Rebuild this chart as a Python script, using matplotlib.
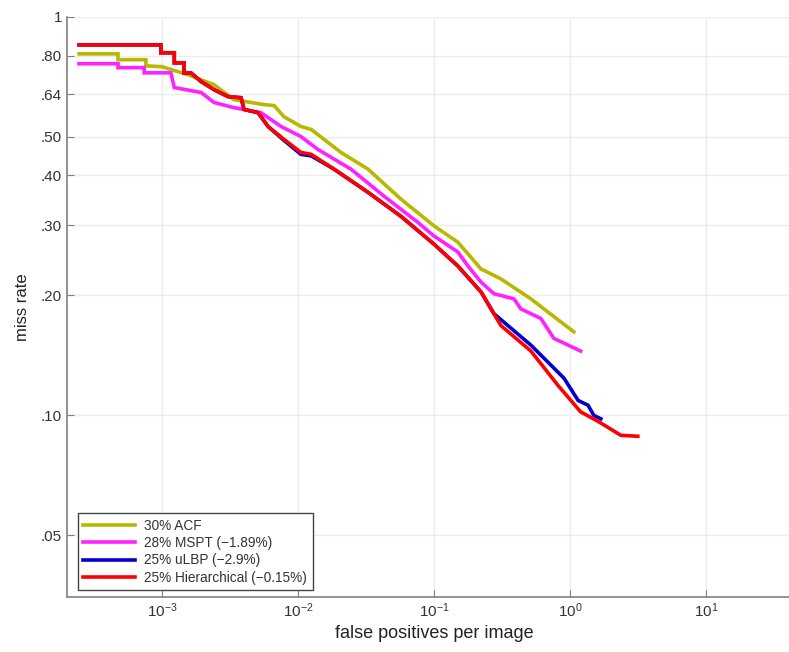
import numpy as np
import matplotlib
matplotlib.use('Agg')
from matplotlib import pyplot as plt

plt.rcParams['font.family'] = ['Liberation Sans', 'DejaVu Sans']
plt.rcParams['mathtext.fontset'] = 'custom'
plt.rcParams['mathtext.rm'] = 'Liberation Sans'

# (false positives per image vs miss rate)
acf_fppi = [2.45e-4, 4.74e-4, 4.74e-4, 7.6e-4, 7.6e-4, 1.0e-3, 1.55e-3, 2.41e-3,
            3.38e-3, 5.53e-3, 6.67e-3, 7.88e-3, 1.05e-2, 1.25e-2, 2.07e-2, 3.27e-2,
            5.71e-2, 0.100, 0.150, 0.222, 0.311, 0.517, 0.762, 1.07]
acf_miss = [0.808, 0.808, 0.781, 0.781, 0.754, 0.750, 0.716, 0.676,
            0.620, 0.603, 0.599, 0.562, 0.531, 0.522, 0.457, 0.415,
            0.349, 0.299, 0.272, 0.233, 0.220, 0.196, 0.177, 0.162]

mspt_fppi = [2.45e-4, 4.74e-4, 4.74e-4, 7.38e-4, 7.38e-4, 1.16e-3, 1.23e-3, 1.94e-3,
             2.41e-3, 3.38e-3, 5.34e-3, 7.5e-3, 1.05e-2, 1.40e-2, 2.45e-2, 4.29e-2,
             7.62e-2, 0.100, 0.150, 0.178, 0.222, 0.276, 0.388, 0.436, 0.612, 0.762, 1.20]
mspt_miss = [0.763, 0.763, 0.746, 0.746, 0.724, 0.724, 0.665, 0.646,
             0.610, 0.592, 0.575, 0.531, 0.501, 0.465, 0.415, 0.355,
             0.305, 0.282, 0.257, 0.237, 0.216, 0.202, 0.196, 0.185, 0.175, 0.156, 0.145]

ulbp_fppi = [2.45e-4, 9.8e-4, 9.8e-4, 1.23e-3, 1.23e-3, 1.45e-3, 1.45e-3, 1.63e-3,
             1.94e-3, 2.41e-3, 3.05e-3, 3.81e-3, 4.01e-3, 5.08e-3, 6.02e-3, 7.88e-3,
             1.05e-2, 1.25e-2, 1.84e-2, 3.27e-2, 5.71e-2, 0.100, 0.150, 0.222, 0.276,
             0.517, 0.904, 1.15, 1.36, 1.50, 1.69]
ulbp_miss = [0.851, 0.851, 0.813, 0.813, 0.767, 0.767, 0.724, 0.724,
             0.688, 0.657, 0.631, 0.627, 0.586, 0.575, 0.531, 0.490,
             0.452, 0.448, 0.415, 0.363, 0.316, 0.269, 0.237, 0.204, 0.180,
             0.150, 0.124, 0.109, 0.106, 0.100, 0.098]

hier_fppi = [2.45e-4, 9.8e-4, 9.8e-4, 1.23e-3, 1.23e-3, 1.45e-3, 1.45e-3, 1.63e-3,
             1.94e-3, 2.41e-3, 3.05e-3, 3.81e-3, 4.01e-3, 5.08e-3, 6.02e-3, 7.88e-3,
             1.05e-2, 1.25e-2, 1.84e-2, 3.27e-2, 5.71e-2, 0.100, 0.150, 0.222, 0.311,
             0.517, 0.816, 1.20, 1.61, 2.37, 3.16]
hier_miss = [0.851, 0.851, 0.813, 0.813, 0.767, 0.767, 0.724, 0.724,
             0.688, 0.657, 0.631, 0.627, 0.586, 0.575, 0.531, 0.493,
             0.457, 0.452, 0.415, 0.363, 0.316, 0.269, 0.237, 0.204, 0.168,
             0.145, 0.119, 0.102, 0.0966, 0.0891, 0.0886]

labels = ['30% ACF', '28% MSPT (\u22121.89%)', '25% uLBP (\u22122.9%)',
          '25% Hierarchical (\u22120.15%)']
colors = ['#b8b800', '#ff22ff', '#0000cc', '#ff0000']

x_ticks = [1e-3, 1e-2, 1e-1, 1e0, 1e1]
y_ticks = [0.05, 0.10, 0.20, 0.30, 0.40, 0.50, 0.64, 0.80, 1.0]
y_tick_labels = ['.05', '.10', '.20', '.30', '.40', '.50', '.64', '.80', '1']

fig = plt.figure(figsize=(7.89, 6.52), dpi=100)
ax = fig.add_axes([0.085, 0.0844, 0.93, 0.8896])

series = [(acf_fppi, acf_miss), (mspt_fppi, mspt_miss),
          (ulbp_fppi, ulbp_miss), (hier_fppi, hier_miss)]
for (fx, fy), c, lab in zip(series, colors, labels):
    ax.plot(fx, fy, color=c, linewidth=2.6, label=lab, solid_joinstyle='miter')

ax.set_xscale('log')
ax.set_yscale('log')
ax.set_xlim(2e-4, 50)
ax.set_ylim(0.035, 1)
ax.set_xticks(x_ticks)
ax.set_yticks(y_ticks)
ax.set_yticklabels(y_tick_labels)
ax.minorticks_off()
ax.grid(True, which='major', color='#ececec', linewidth=1.0)
ax.set_axisbelow(True)

for s in ['top', 'right']:
    ax.spines[s].set_visible(False)
for s in ['left', 'bottom']:
    ax.spines[s].set_color('#808080')
    ax.spines[s].set_linewidth(1.2)
ax.tick_params(direction='in', length=5, color='#808080', labelsize=11,
               labelcolor='#333333')

ax.set_xlabel('false positives per image', fontsize=13, color='#222222', labelpad=3)
ax.set_ylabel('miss rate', fontsize=12, color='#222222', labelpad=8)

leg = ax.legend(loc='lower left', bbox_to_anchor=(0.005, 0.0), fontsize=9.8,
                handlelength=3.8, handletextpad=0.7, borderpad=0.4,
                labelspacing=0.25, fancybox=False, framealpha=1)
leg.get_frame().set_edgecolor('#444444')
leg.get_frame().set_linewidth(1.0)
for t in leg.get_texts():
    t.set_color('#333333')

plt.savefig('out.png', dpi=100)
